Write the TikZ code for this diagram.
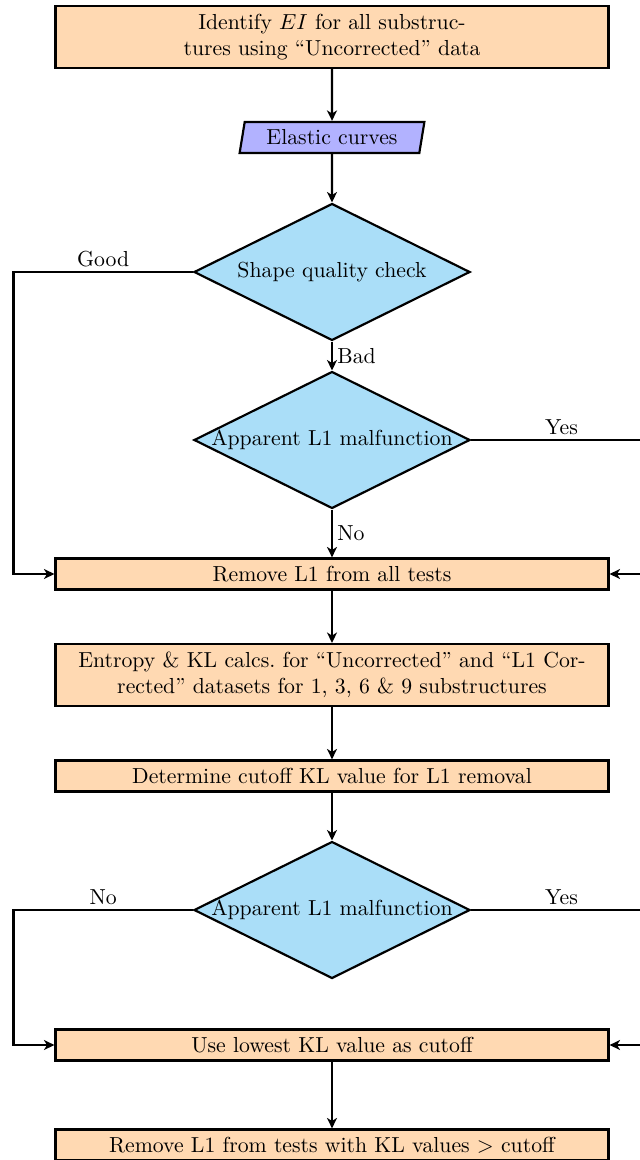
\documentclass[tikz,border=0pt]{standalone}
\usetikzlibrary{shapes.geometric,arrows.meta}
\definecolor{boxfill}{RGB}{255,217,178}
\definecolor{iofill}{RGB}{178,178,255}
\definecolor{decfill}{RGB}{170,222,248}
\begin{document}
\begin{tikzpicture}[x=0.46pt, y=-0.46pt,
  every node/.style={font=\normalsize},
  flow/.style={line width=0.95pt, -{Stealth[length=4.8pt,width=4.6pt,inset=1.4pt]}},
  procbox/.style={draw, line width=1pt, fill=boxfill, minimum width=254.4pt,
    minimum height=14.3pt, inner sep=1pt, align=center},
  iobox/.style={draw, line width=1pt, fill=iofill, trapezium,
    trapezium left angle=75.5, trapezium right angle=104.5,
    trapezium stretches body, minimum width=85pt, minimum height=14.3pt, inner sep=1pt},
  decision/.style={draw, line width=1pt, fill=decfill, diamond,
    minimum width=127pt, minimum height=63pt, inner sep=0pt},
  lbl/.style={inner sep=2pt}]
\useasboundingbox (0,0) rectangle (639,1160);

% main column
\node[procbox, minimum height=28.5pt] (b1) at (332,37)
  {Identify $EI$ for all substruc-\\tures using ``Uncorrected'' data};
\node[iobox] (io) at (332,137.5) {Elastic curves};
\node[decision] (d1) at (332,272) {\makebox[0pt]{Shape quality check}};
\node[decision] (d2) at (332,440) {\makebox[0pt]{Apparent L1 malfunction}};
\node[procbox] (b2) at (332,574) {Remove L1 from all tests};
\node[procbox, minimum height=28.5pt] (b3) at (332,675)
  {Entropy \& KL calcs.\ for ``Uncorrected'' and ``L1 Cor-\\rected'' datasets for 1, 3, 6 \& 9 substructures};
\node[procbox] (b4) at (332,776) {Determine cutoff KL value for L1 removal};
\node[decision] (d3) at (332,910) {\makebox[0pt]{Apparent L1 malfunction}};
\node[procbox] (b5) at (332,1045) {Use lowest KL value as cutoff};
\node[procbox] (b6) at (332,1145) {Remove L1 from tests with KL values $>$ cutoff};

% side routes
\coordinate (gl) at (13.5,272);
\coordinate (yr) at (652,440);
\coordinate (nl) at (13.5,910);
\coordinate (yr2) at (652,910);

\draw[flow] (b1) -- (io);
\draw[flow] (io) -- (d1);
\draw[flow] (d1) -- node[right, lbl] {Bad} (d2);
\draw[flow] (d2) -- node[right, lbl] {No} (b2);
\draw[flow] (d1.west) -- node[above, lbl] {Good} (gl) |- (b2.west);
\draw[flow] (d2.east) -- node[above, lbl] {Yes} (yr) |- (b2.east);
\draw[flow] (b2) -- (b3);
\draw[flow] (b3) -- (b4);
\draw[flow] (b4) -- (d3);
\draw[flow] (d3.west) -- node[above, lbl] {No} (nl) |- (b5.west);
\draw[flow] (d3.east) -- node[above, lbl] {Yes} (yr2) |- (b5.east);
\draw[flow] (b5) -- (b6);
\end{tikzpicture}
\end{document}
